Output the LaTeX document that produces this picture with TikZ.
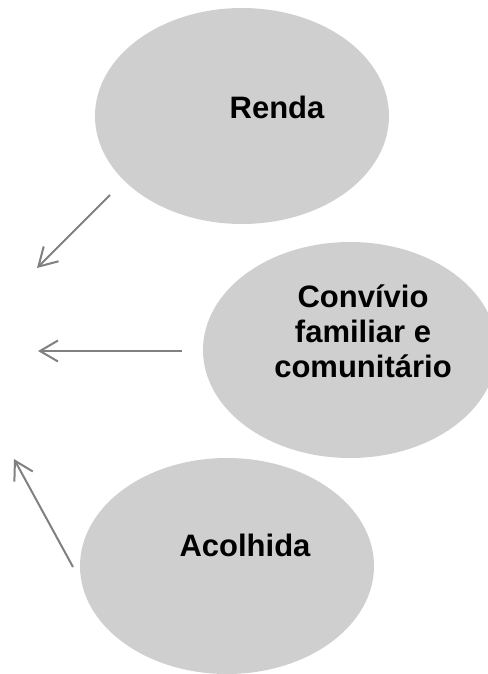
\documentclass[tikz,border=0pt]{standalone}
\usepackage{fontspec}
\setmainfont{Liberation Sans}
\usetikzlibrary{shapes.geometric,arrows.meta}
\definecolor{bolhacinza}{RGB}{208,207,208}
\definecolor{setacinza}{RGB}{128,128,128}
\tikzset{bolha/.style={ellipse,fill=bolhacinza,inner sep=0pt,minimum width=294pt,minimum height=216pt},rotulo/.style={font=\fontsize{31}{35}\selectfont\bfseries,align=center,inner sep=0pt},seta/.style={draw=setacinza,line width=2pt,-{Straight Barb[length=18pt,width=21pt,line width=2pt]}}}

\begin{document}
\begin{tikzpicture}[x=1pt,y=-1pt]
          \useasboundingbox (0,0) rectangle (487,674);

          % ellipses
          \node (renda) [bolha] at (242,116) {};
          \node (convivio) [bolha] at (350,350) {};
          \node (acolhida) [bolha] at (227,566) {};

          % texts
          \node (renda-t) [rotulo] at (277,107) {Renda};
          \node (convivio-t) [rotulo] at (363,331) {Convívio\\familiar e\\comunitário};
          \node (acolhida-t) [rotulo] at (245,545) {Acolhida};

          % arrows
          \coordinate (s1) at (110,195);
          \coordinate (e1) at (37,268);
          \coordinate (s2) at (182,351);
          \coordinate (e2) at (38,351);
          \coordinate (s3) at (73,567);
          \coordinate (e3) at (14,459);
          \draw[seta] (s1)--(e1);
          \draw[seta] (s2)--(e2);
          \draw[seta] (s3)--(e3);
\end{tikzpicture}
\end{document}
